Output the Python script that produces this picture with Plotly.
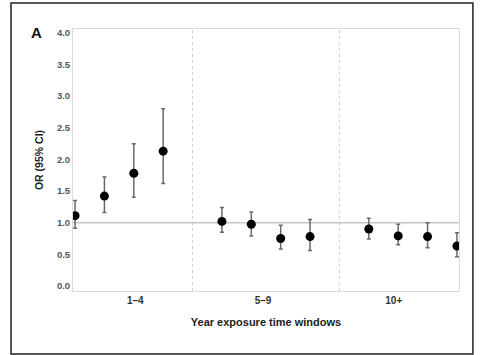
import plotly.graph_objects as go

# Data
positions = [0, 1, 2, 3, 5, 6, 7, 8, 10, 11, 12, 13]
or_values = [1.11, 1.42, 1.78, 2.13, 1.02, 0.975, 0.75, 0.78, 0.90, 0.79, 0.78, 0.63]
ci_upper = [1.35, 1.72, 2.245, 2.80, 1.24, 1.17, 0.96, 1.05, 1.07, 0.975, 1.00, 0.84]
ci_lower = [0.91, 1.16, 1.40, 1.62, 0.85, 0.79, 0.585, 0.56, 0.74, 0.65, 0.605, 0.46]
window_labels = ["1–4", "5–9", "10+"]
window_label_pos = [2.05, 6.4, 10.85]
dividers = [4, 9]
y_ticks = [0.0, 0.5, 1.0, 1.5, 2.0, 2.5, 3.0, 3.5, 4.0]

err_plus = [u - v for u, v in zip(ci_upper, or_values)]
err_minus = [v - l for v, l in zip(or_values, ci_lower)]

fig = go.Figure()
fig.add_trace(go.Scatter(
    x=positions, y=or_values, mode="markers",
    marker=dict(color="black", size=9),
    error_y=dict(type="data", symmetric=False, array=err_plus, arrayminus=err_minus,
                 color="#6a6a6a", thickness=1.5, width=2),
    showlegend=False, hoverinfo="skip"))

shapes = []
for d in dividers:
    shapes.append(dict(type="line", xref="x", yref="paper", x0=d, x1=d, y0=0, y1=1,
                       line=dict(color="#cfcfcf", width=1, dash="dot"), layer="below"))
shapes.append(dict(type="line", xref="paper", yref="y", x0=0, x1=1, y0=1.0, y1=1.0,
                   line=dict(color="#c4c4c4", width=1.5), layer="below"))
# outer frame
shapes.append(dict(type="rect", xref="paper", yref="paper",
                   x0=-0.1606, x1=1.036, y0=-0.240, y1=1.099,
                   line=dict(color="#222", width=1.5)))

fig.update_layout(
    width=481, height=355,
    margin=dict(l=73, r=22, t=29, b=64),
    paper_bgcolor="white", plot_bgcolor="white",
    font=dict(family="Liberation Sans, Arial, sans-serif", color="#333"),
    shapes=shapes,
    annotations=[dict(text="<b>A</b>", xref="paper", yref="paper", x=-0.095, y=0.985,
                      xanchor="center", yanchor="middle", showarrow=False,
                      font=dict(size=15, color="#111"))],
)
fig.update_xaxes(range=[-0.07, 13.07], tickmode="array", tickvals=window_label_pos,
                 ticktext=["<b>%s</b>" % t for t in window_labels],
                 tickfont=dict(size=10, color="#333"), ticks="", showgrid=False, zeroline=False,
                 showline=True, linecolor="#dcdcdc", linewidth=1, mirror=True,
                 title=dict(text="<b>Year exposure time windows</b>", font=dict(size=11, color="#222"),
                            standoff=13))
fig.update_yaxes(range=[-0.08, 4.06], tickmode="array", tickvals=y_ticks,
                 ticktext=["<b>%.1f</b>" % t for t in y_ticks],
                 tickfont=dict(size=9.5, color="#555"), ticks="", showgrid=False, zeroline=False,
                 showline=True, linecolor="#dcdcdc", linewidth=1, mirror=True,
                 title=dict(text="<b>OR (95% CI)</b>", font=dict(size=10.5, color="#222"), standoff=11))

fig.write_html("out.html", config={"displayModeBar": False},
               post_script="document.body.style.margin='0';")
